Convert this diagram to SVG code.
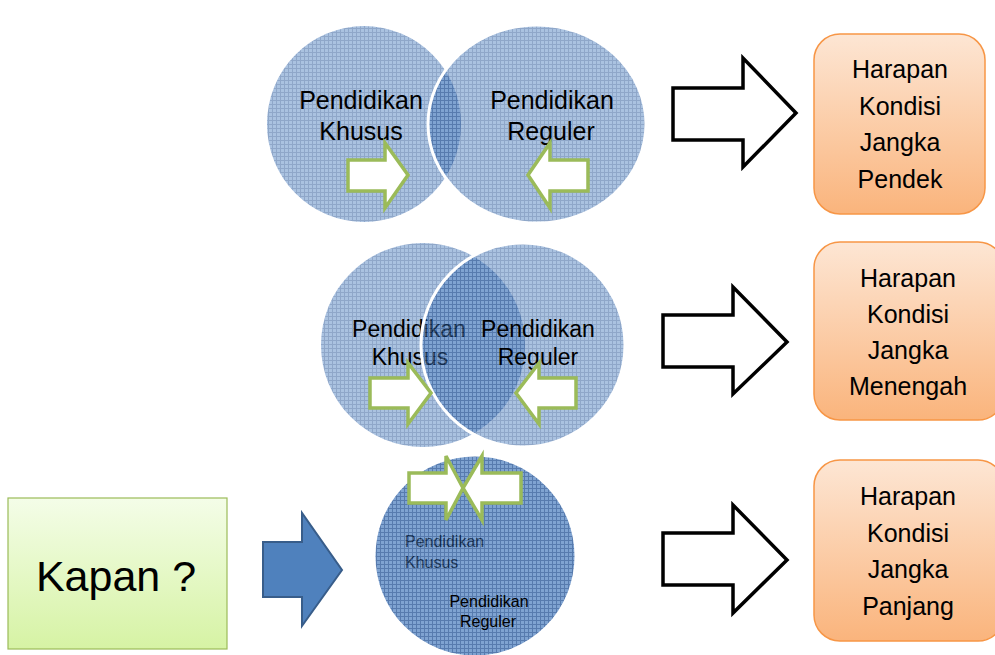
<svg xmlns="http://www.w3.org/2000/svg" width="995" height="655" viewBox="0 0 995 655">
<defs>
<pattern id="grid" patternUnits="userSpaceOnUse" width="4" height="4">
<rect width="4" height="4" fill="#5585c2"/>
<path d="M0 0.5H4M0.5 0V4" stroke="#1f4f94" stroke-width="1"/>
</pattern>
<linearGradient id="orange" x1="0" y1="0" x2="0" y2="1">
<stop offset="0" stop-color="#fde6d4"/>
<stop offset="1" stop-color="#fab47c"/>
</linearGradient>
<linearGradient id="green" x1="0" y1="0" x2="0" y2="1">
<stop offset="0" stop-color="#f4fde8"/>
<stop offset="1" stop-color="#d6f3a4"/>
</linearGradient>
</defs>
<style>
.c{fill:url(#grid);fill-opacity:0.5}
.c2{fill:url(#grid);fill-opacity:0.5;stroke:#fff;stroke-width:3}
.t{font-family:"Liberation Sans",Arial,sans-serif;fill:#000;text-anchor:middle}
.ga{fill:#fff;stroke:#9bbb59;stroke-width:3.5;stroke-linejoin:miter}
.ba{fill:#fff;stroke:#000;stroke-width:3.5}
.box{fill:url(#orange);stroke:#f79646;stroke-width:1.5}
.bt{font-family:"Liberation Sans",Arial,sans-serif;font-size:25px;fill:#000;text-anchor:middle}
</style>
<rect width="995" height="655" fill="#fff"/>

<g id="top-khusus">
<ellipse class="c" cx="364" cy="124" rx="97" ry="98"/>
<text class="t" font-size="25"><tspan x="361" y="109">Pendidikan</tspan><tspan x="361" y="140">Khusus</tspan></text>
</g>
<g id="top-reguler">
<ellipse class="c2" cx="537" cy="124" rx="109" ry="99"/>
<text class="t" font-size="25"><tspan x="552" y="109">Pendidikan</tspan><tspan x="551" y="140">Reguler</tspan></text>
</g>

<g id="mid-khusus">
<circle class="c" cx="423" cy="345" r="102"/>
<text class="t" font-size="23"><tspan x="409" y="337">Pendidikan</tspan><tspan x="410" y="365">Khusus</tspan></text>
</g>
<g id="mid-reguler">
<circle class="c2" cx="523" cy="345" r="102"/>
<text class="t" font-size="23"><tspan x="538" y="337">Pendidikan</tspan><tspan x="538" y="365">Reguler</tspan></text>
</g>

<g id="bot-khusus">
<circle class="c" cx="475" cy="556" r="101"/>
<text font-family="Liberation Sans, Arial, sans-serif" font-size="16" fill="#000"><tspan x="405" y="547">Pendidikan</tspan><tspan x="405" y="568">Khusus</tspan></text>
</g>
<g id="bot-reguler">
<circle class="c2" cx="475" cy="556" r="101"/>
<text class="t" font-size="16"><tspan x="489" y="607">Pendidikan</tspan><tspan x="488" y="627">Reguler</tspan></text>
</g>

<g id="green-arrows">
<polygon class="ga" points="348,160 385,160 385,143 408,175 385,208 385,191 348,191"/>
<polygon class="ga" points="588,160 550,160 550,143 528,175 550,208 550,191 588,191"/>
<polygon class="ga" points="370,378 408,378 408,363 431,393 408,424 408,408 370,408"/>
<polygon class="ga" points="576,378 539,378 539,363 516,393 539,424 539,408 576,408"/>
<polygon class="ga" points="409,473 446,473 446,456 463,488 446,520 446,503 409,503"/>
<polygon class="ga" points="521,473 482,473 482,456 463,488 482,520 482,503 521,503"/>
</g>

<g id="kapan">
<rect x="8" y="498" width="219" height="151" fill="url(#green)" stroke="#9bbb59" stroke-width="1.2"/>
<text x="116" y="591" font-family="Liberation Sans, Arial, sans-serif" font-size="43" text-anchor="middle" fill="#000">Kapan ?</text>
</g>

<g id="jangka-pendek">
<rect class="box" x="814" y="34" width="171" height="180" rx="26"/>
<text class="bt"><tspan x="900" y="78">Harapan</tspan><tspan x="900" y="115">Kondisi</tspan><tspan x="900" y="151">Jangka</tspan><tspan x="900" y="188">Pendek</tspan></text>
</g>
<g id="jangka-menengah">
<rect class="box" x="814" y="242" width="190" height="178" rx="26"/>
<text class="bt"><tspan x="908" y="287">Harapan</tspan><tspan x="908" y="323">Kondisi</tspan><tspan x="908" y="359">Jangka</tspan><tspan x="908" y="395">Menengah</tspan></text>
</g>
<g id="jangka-panjang">
<rect class="box" x="814" y="460" width="190" height="181" rx="26"/>
<text class="bt"><tspan x="908" y="505">Harapan</tspan><tspan x="908" y="542">Kondisi</tspan><tspan x="908" y="578">Jangka</tspan><tspan x="908" y="615">Panjang</tspan></text>
</g>

<g id="connectors">
<polygon points="263,542 302,542 302,513 342,570 302,626 302,597 263,597" fill="#4f81bd" stroke="#385d8a" stroke-width="2"/>
<polygon class="ba" points="673,88 743,88 743,58 796,113 743,167 743,140 673,140"/>
<polygon class="ba" points="663,315 733,315 733,287 787,342 733,394 733,367 663,367"/>
<polygon class="ba" points="663,533 733,533 733,505 787,560 733,613 733,585 663,585"/>
</g>
</svg>
